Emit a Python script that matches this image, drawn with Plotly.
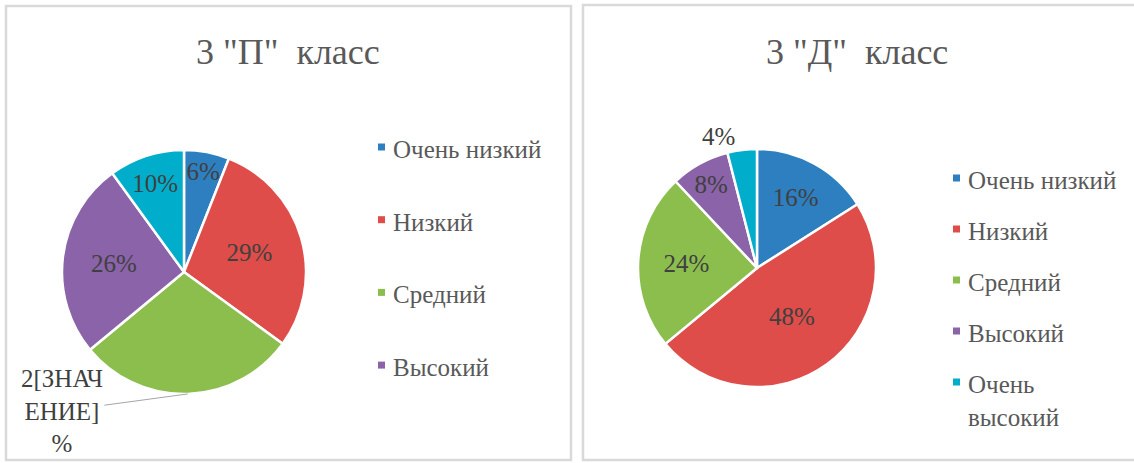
import math
import plotly.graph_objects as go

W, H = 1134, 463

# ---- data ----
categories_p = ["Очень низкий", "Низкий", "Средний", "Высокий", "Очень высокий"]
values_p = [6, 29, 29, 26, 10]
labels_p = ["6%", "29%", "", "26%", "10%"]          # green label is broken in the source
broken_label_p = "2[ЗНАЧ<br>ЕНИЕ]<br>%"
legend_p = ["Очень низкий", "Низкий", "Средний", "Высокий"]

categories_d = ["Очень низкий", "Низкий", "Средний", "Высокий", "Очень высокий"]
values_d = [16, 48, 24, 8, 4]
labels_d = ["16%", "48%", "24%", "8%", "4%"]
legend_d = ["Очень низкий", "Низкий", "Средний", "Высокий", "Очень<br>высокий"]

title_p = '3 "П"  класс'
title_d = '3 "Д"  класс'

colors = ["#2E7FC0", "#DE4D4A", "#8CBE4E", "#8A63A8", "#00AECB"]

FONT = "Liberation Serif"
TXT = "#404040"
GREY = "#595959"


def px(x):
    return x / W


def py(y):
    return 1 - y / H


# pie geometry (pixels)
cpx, cpy, rp = 184, 272, 122
cdx, cdy, rd = 757, 268, 119

fig = go.Figure()

fig.add_trace(go.Pie(
    labels=categories_p, values=values_p, text=labels_p, textinfo="text",
    sort=False, direction="clockwise", rotation=0,
    marker=dict(colors=colors, line=dict(color="white", width=2.5)),
    textposition="inside", insidetextorientation="horizontal",
    textfont=dict(family=FONT, size=25, color=TXT),
    domain=dict(x=[px(cpx - rp), px(cpx + rp)], y=[py(cpy + rp), py(cpy - rp)]),
    showlegend=False, hoverinfo="label+percent",
))

fig.add_trace(go.Pie(
    labels=categories_d, values=values_d, text=labels_d, textinfo="text",
    sort=False, direction="clockwise", rotation=0,
    marker=dict(colors=colors, line=dict(color="white", width=2.5)),
    textposition=["inside", "inside", "inside", "inside", "outside"],
    insidetextorientation="horizontal",
    textfont=dict(family=FONT, size=25, color=TXT),
    domain=dict(x=[px(cdx - rd), px(cdx + rd)], y=[py(cdy + rd), py(cdy - rd)]),
    showlegend=False, hoverinfo="label+percent",
))

shapes = [
    dict(type="rect", xref="paper", yref="paper", x0=px(6), x1=px(571), y0=py(460), y1=py(6),
         line=dict(color="#D9D9D9", width=2.5), fillcolor="rgba(0,0,0,0)", layer="below"),
    dict(type="rect", xref="paper", yref="paper", x0=px(583), x1=px(1145), y0=py(460), y1=py(5),
         line=dict(color="#D9D9D9", width=2.5), fillcolor="rgba(0,0,0,0)", layer="below"),
]

annotations = [
    dict(text=title_p, x=px(288), y=py(52), xref="paper", yref="paper", showarrow=False,
         font=dict(family=FONT, size=36, color=GREY), xanchor="center", yanchor="middle"),
    dict(text=title_d, x=px(857), y=py(52), xref="paper", yref="paper", showarrow=False,
         font=dict(family=FONT, size=36, color=GREY), xanchor="center", yanchor="middle"),
]

# broken data label with leader line, anchored at the mid-angle of the green slice
tot = sum(values_p)
cum = sum(values_p[:2])
theta = 2 * math.pi * (cum + values_p[2] / 2) / tot
tipx = cpx + rp * math.sin(theta)
tipy = cpy - rp * math.cos(theta)
annotations.append(dict(
    text=broken_label_p, x=px(tipx), y=py(tipy), xref="paper", yref="paper",
    showarrow=True, arrowhead=0, arrowwidth=1, arrowcolor="#A6A6A6",
    ax=-126, ay=17, align="center",
    font=dict(family=FONT, size=25, color=TXT),
))


def add_legend(items, x_marker, y_first, step):
    for i, name in enumerate(items):
        yc = y_first + i * step
        shapes.append(dict(type="rect", xref="paper", yref="paper",
                           x0=px(x_marker), x1=px(x_marker + 7),
                           y0=py(yc + 3.5), y1=py(yc - 3.5),
                           fillcolor=colors[i], line=dict(width=0)))
        annotations.append(dict(text=name, x=px(x_marker + 13), y=py(yc - 13), xref="paper", yref="paper",
                                showarrow=False, xanchor="left", yanchor="top", align="left",
                                font=dict(family=FONT, size=25, color=GREY)))


add_legend(legend_p, 378, 147, 72.7)
add_legend(legend_d, 953, 178, 51)

fig.update_layout(
    width=W, height=H,
    margin=dict(l=0, r=0, t=0, b=0),
    paper_bgcolor="white", plot_bgcolor="white",
    font=dict(family=FONT),
    shapes=shapes, annotations=annotations,
    uniformtext=dict(mode="show", minsize=25),
)

fig.write_html("out.html", config={"displayModeBar": False},
               post_script="document.body.style.margin='0';document.body.style.overflow='hidden';")
